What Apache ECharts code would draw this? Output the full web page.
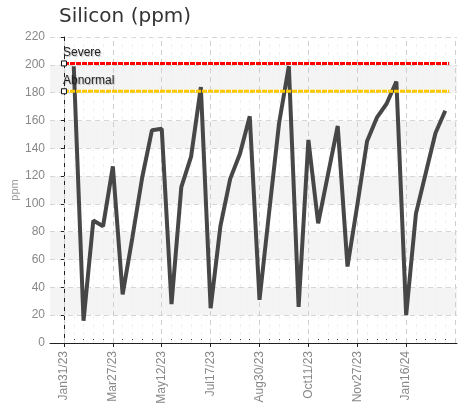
<!DOCTYPE html>
<html>
<head>
<meta charset="utf-8">
<script src="https://cdn.jsdelivr.net/npm/echarts@6/dist/echarts.min.js"></script>
<style>
html,body{margin:0;padding:0;background:#fff;}
#chart{width:469px;height:408px;}
</style>
</head>
<body>
<div id="chart"></div>
<script>
// ---- data ----
const tickLabels = ['Jan31/23','Mar27/23','May12/23','Jul17/23','Aug30/23','Oct11/23','Nov27/23','Jan16/24'];
const tickIndex = [0,5,10,15,20,25,30,35];
const silicon = [null,199,16,88,84,127,35,76,119,153,154,28,112,134,184,25,84,118,136,163,31,95,158,199,26,146,86,121,156,55,99,145,162,172,188,20,93,122,151,167];
const severeLimit = 201;
const abnormalLimit = 181;
const limitStart = 0;
const limitEnd = 39.4;

const siliconData = silicon.map((v, i) => [i, v]);
const allIdx = [];
for (let i = 0; i <= 40; i++) allIdx.push(i);
const majorGrid = [0,5,10,15,20,25,30,35,40];
const minorGrid = allIdx.filter(i => majorGrid.indexOf(i) < 0);

const chart = echarts.init(document.getElementById('chart'), null, {renderer: 'canvas'});
const labelFont = 'Liberation Sans, Arial, sans-serif';

function limitSeries(name, value, color) {
  return {
    name: name,
    type: 'line',
    xAxisIndex: 0,
    z: 12,
    silent: true,
    lineStyle: {color: color, width: 3, type: [5, 1]},
    data: [
      {value: [limitStart, value], symbol: 'rect', symbolSize: 5,
       itemStyle: {color: '#fff', borderColor: '#111', borderWidth: 1},
       label: {show: true, position: 'top', align: 'left', distance: 2, offset: [-1, 0],
               formatter: name, color: '#222', fontSize: 12, fontFamily: labelFont,
               textShadowColor: 'rgba(0,0,0,0.25)', textShadowBlur: 1, textShadowOffsetX: 1, textShadowOffsetY: 1}},
      {value: [limitEnd, value], symbol: 'none'}
    ]
  };
}

chart.setOption({
  animation: false,
  title: {
    text: 'Silicon (ppm)', left: 54, top: 2,
    textStyle: {fontFamily: 'DejaVu Sans, Verdana, sans-serif', fontSize: 20, fontWeight: 'normal', color: '#333'}
  },
  grid: {left: 50, right: 12, top: 37, bottom: 65, containLabel: false, outerBoundsMode: 'none'},
  xAxis: [
    {
      type: 'value', min: -1.43, max: 40.2,
      axisLine: {show: true, lineStyle: {color: '#222', width: 1}},
      axisTick: {show: true, customValues: tickIndex, length: 4, lineStyle: {color: '#222'}},
      axisLabel: {show: true, customValues: tickIndex, rotate: 90, margin: 8,
                  formatter: v => tickLabels[tickIndex.indexOf(Math.round(v))] || '',
                  color: '#888', fontSize: 12, fontFamily: labelFont},
      splitLine: {show: false}
    },
    {
      type: 'value', min: -1.43, max: 40.2, position: 'bottom',
      axisLine: {show: false},
      axisTick: {show: true, customValues: allIdx, inside: true, length: 4, lineStyle: {color: '#444'}},
      axisLabel: {show: false},
      splitLine: {show: false}
    }
  ],
  yAxis: {
    type: 'value', min: 0, max: 220, interval: 20,
    name: 'ppm', nameLocation: 'middle', nameGap: 30, nameMoveOverlap: false,
    nameTextStyle: {color: '#999', fontSize: 11, fontFamily: labelFont},
    axisLine: {show: true, lineStyle: {color: '#222', width: 1}},
    axisTick: {show: true, length: 3, lineStyle: {color: '#222'}},
    axisLabel: {color: '#888', fontSize: 12, margin: 5, fontFamily: labelFont},
    splitLine: {show: true, lineStyle: {color: '#d6d6d6', type: [5, 4], width: 1}},
    splitArea: {show: true, areaStyle: {color: ['#ffffff', '#f4f4f4']}}
  },
  series: [
    {
      type: 'line', name: 'grid', data: [], silent: true, z: 1,
      markLine: {
        silent: true, symbol: 'none', animation: false, z: 1,
        label: {show: false},
        data: majorGrid.map(i => ({xAxis: i, lineStyle: {color: '#cfcfcf', type: [5, 4], width: 1}}))
          .concat(minorGrid.map(i => ({xAxis: i, lineStyle: {color: '#f0f0f0', type: [3, 5], width: 1}})))
      }
    },
    {
      type: 'line', name: 'Silicon', data: siliconData, z: 10,
      showSymbol: false, symbol: 'none', connectNulls: false,
      lineStyle: {color: '#474747', width: 4, join: 'bevel'}
    },
    limitSeries('Severe', severeLimit, '#ff0000'),
    limitSeries('Abnormal', abnormalLimit, '#ffc800')
  ]
});
</script>
</body>
</html>
